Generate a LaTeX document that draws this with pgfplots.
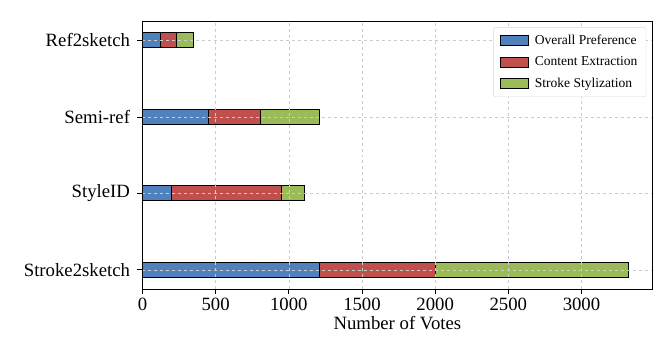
\documentclass[border=0pt]{standalone}
\usepackage{pgfplots}
\pgfplotsset{compat=1.18}
\usepackage{fontspec}
\setmainfont{Liberation Serif}
\definecolor{cblue}{HTML}{4F81BD}
\definecolor{cred}{HTML}{C0504D}
\definecolor{cgreen}{HTML}{9BBB59}
\pgfplotsset{mylegimg/.style={legend image code/.code={\draw[##1, draw=black, line width=0.8pt, sharp corners] (0bp,-5bp) rectangle (28bp,5bp); \path (32bp,0bp);}}}
\begin{document}
\begin{tikzpicture}
\useasboundingbox (0,0) rectangle (669bp,351bp);
\begin{axis}[
  at={(142.5bp,62bp)}, anchor=south west,
  scale only axis, width=509.8bp, height=267.7bp,
  xbar stacked, bar width=15bp,
  xmin=0, xmax=3484, ymin=-0.25, ymax=3.25,
  ytick={0,1,2,3}, yticklabels={Stroke2sketch,StyleID,Semi-ref,Ref2sketch},
  xtick={0,500,1000,1500,2000,2500,3000},
  /pgf/number format/assume math mode=true,
  /pgf/number format/1000 sep={},
  tick label style={font=\fontsize{18.8}{20}\selectfont},
  yticklabel style={xshift=-4bp},
  xticklabel style={yshift=-1bp},
  label style={font=\fontsize{18.8}{20}\selectfont},
  xlabel={Number of Votes},
  xlabel style={yshift=2bp},
  grid=major, grid style={dashed, gray!40, line width=0.6pt},
  axis on top,
  tick align=outside, xtick pos=bottom, ytick pos=left,
  major tick length=5bp,
  tick style={black, line width=0.8pt},
  axis line style={line width=0.9pt},
  legend style={at={(0.988,0.978)}, anchor=north east, draw=gray!30, rounded corners=2bp,
    fill=white,
    font=\fontsize{13.6}{15}\selectfont, row sep=7bp, inner xsep=6.5bp, inner ysep=5.5bp},
  legend cell align=left,
]
\addplot[fill=cblue, draw=black, line width=0.9pt, mylegimg] coordinates {(1210,0) (195,1) (454,2) (120,3)};
\addplot[fill=cred, draw=black, line width=0.9pt, mylegimg] coordinates {(790,0) (756,1) (349,2) (111,3)};
\addplot[fill=cgreen, draw=black, line width=0.9pt, mylegimg] coordinates {(1320,0) (155,1) (405,2) (114,3)};
\legend{Overall Preference, Content Extraction, Stroke Stylization}
\end{axis}
\end{tikzpicture}
\end{document}
